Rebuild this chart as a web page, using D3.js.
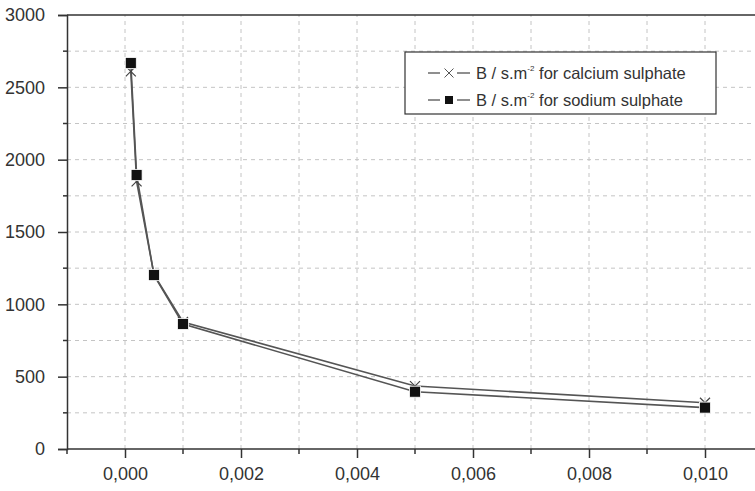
<!DOCTYPE html>
<html>
<head>
<meta charset="utf-8">
<script src="https://cdn.jsdelivr.net/npm/d3@7"></script>
<style>
  body { margin: 0; background: #fff; }
  text { font-family: "Liberation Sans", Arial, sans-serif; fill: #333; }
</style>
</head>
<body>
<div id="chart"></div>
<script>
// Concentrations (x) and B values
const concentrations = [0.0001, 0.0002, 0.0005, 0.001, 0.005, 0.010];
const calciumValues = [2610, 1850, 1205, 878, 435, 320];
const sodiumValues = [2668, 1894, 1202, 864, 396, 286];
const xTicks = [0, 0.002, 0.004, 0.006, 0.008, 0.010];
const yTicks = [0, 500, 1000, 1500, 2000, 2500, 3000];

const width = 755, height = 491;
const svg = d3.select('#chart').append('svg')
    .attr('width', width)
    .attr('height', height);

// Scales
const x = d3.scaleLinear().domain([-0.001, 0.011]).range([67, 763]);
const y = d3.scaleLinear().domain([0, 3000]).range([449, 15]);

// Grid lines (every minor step)
const gridX = d3.range(0, 0.0115, 0.001);
const gridY = d3.range(250, 3000, 250);
const grid = svg.append('g').attr('stroke', '#c4c4c4').attr('stroke-dasharray', '4,4').attr('stroke-width', 1);
grid.selectAll('line.gx').data(gridX).join('line')
    .attr('x1', d => x(d)).attr('x2', d => x(d))
    .attr('y1', y(0)).attr('y2', y(3000));
grid.selectAll('line.gy').data(gridY).join('line')
    .attr('x1', x(-0.001)).attr('x2', width)
    .attr('y1', d => y(d)).attr('y2', d => y(d));

// Minor ticks and top frame line
const axes = svg.append('g').attr('stroke', '#333').attr('stroke-width', 1.5);
axes.selectAll('line.mx').data(d3.range(-0.001, 0.0115, 0.002)).join('line')
    .attr('x1', d => x(d)).attr('x2', d => x(d))
    .attr('y1', y(0)).attr('y2', y(0) + 5);
axes.selectAll('line.my').data(d3.range(250, 3000, 500)).join('line')
    .attr('x1', x(-0.001) - 4).attr('x2', x(-0.001))
    .attr('y1', d => y(d)).attr('y2', d => y(d));
axes.append('line')
    .attr('x1', x(-0.001)).attr('x2', width)
    .attr('y1', y(3000)).attr('y2', y(3000));

// X axis
const xAxis = svg.append('g')
    .attr('transform', `translate(0,${y(0)})`)
    .call(d3.axisBottom(x).tickValues(xTicks).tickSize(9).tickPadding(9)
        .tickFormat(d => d3.format('.3f')(d).replace('.', ',')));
xAxis.select('.domain').attr('stroke', '#333').attr('stroke-width', 1.5)
    .attr('d', `M${x(-0.001)},0H${width}`);
xAxis.selectAll('.tick line').attr('stroke', '#333').attr('stroke-width', 1.5);
xAxis.selectAll('.tick text').attr('font-size', 18).attr('fill', '#3a3a3a');

// Y axis
const yAxis = svg.append('g')
    .attr('transform', `translate(${x(-0.001)},0)`)
    .call(d3.axisLeft(y).tickValues(yTicks).tickSize(9).tickPadding(13)
        .tickFormat(d3.format('d')));
yAxis.select('.domain').attr('stroke', '#333').attr('stroke-width', 1.5);
yAxis.selectAll('.tick line').attr('stroke', '#333').attr('stroke-width', 1.5);
yAxis.selectAll('.tick text').attr('font-size', 18).attr('fill', '#3a3a3a');

// Lines
const line = d3.line().x(d => x(d[0])).y(d => y(d[1]));
const calcium = concentrations.map((c, i) => [c, calciumValues[i]]);
const sodium = concentrations.map((c, i) => [c, sodiumValues[i]]);

svg.append('path').datum(calcium).attr('d', line)
    .attr('fill', 'none').attr('stroke', '#555').attr('stroke-width', 1.6);
svg.append('path').datum(sodium).attr('d', line)
    .attr('fill', 'none').attr('stroke', '#555').attr('stroke-width', 1.6);

// Markers
function crossPath(cx, cy, r) {
    return `M${cx - r},${cy - r}L${cx + r},${cy + r}M${cx - r},${cy + r}L${cx + r},${cy - r}`;
}
svg.append('g').selectAll('path').data(calcium).join('path')
    .attr('d', d => crossPath(x(d[0]), y(d[1]), 5))
    .attr('stroke', '#444').attr('stroke-width', 1.2).attr('fill', 'none');
svg.append('g').selectAll('rect').data(sodium).join('rect')
    .attr('x', d => x(d[0]) - 5.5).attr('y', d => y(d[1]) - 5.5)
    .attr('width', 11).attr('height', 11)
    .attr('fill', '#111').attr('stroke', '#fff').attr('stroke-width', 0.8);

// Legend
const legend = svg.append('g').attr('transform', 'translate(405,52)');
legend.append('rect').attr('width', 311).attr('height', 62)
    .attr('fill', '#fff').attr('stroke', '#333').attr('stroke-width', 1.2);
const entries = [
    { label: 'calcium sulphate', marker: 'cross' },
    { label: 'sodium sulphate', marker: 'square' }
];
entries.forEach((e, i) => {
    const cy = 21 + i * 27;
    legend.append('line').attr('x1', 23).attr('x2', 35).attr('y1', cy).attr('y2', cy)
        .attr('stroke', '#444').attr('stroke-width', 1.2);
    legend.append('line').attr('x1', 52).attr('x2', 65).attr('y1', cy).attr('y2', cy)
        .attr('stroke', '#444').attr('stroke-width', 1.2);
    if (e.marker === 'cross') {
        legend.append('path').attr('d', crossPath(44, cy, 4.5))
            .attr('stroke', '#555').attr('stroke-width', 1);
    } else {
        legend.append('rect').attr('x', 40).attr('y', cy - 4).attr('width', 8).attr('height', 8)
            .attr('fill', '#111');
    }
    const t = legend.append('text').attr('x', 71).attr('y', cy + 5.5).attr('font-size', 16.5);
    t.append('tspan').text('B / s.m');
    t.append('tspan').attr('font-size', 8).attr('dy', -8).text('-2');
    t.append('tspan').attr('dy', 8).text(' for ' + e.label);
});
</script>
</body>
</html>
